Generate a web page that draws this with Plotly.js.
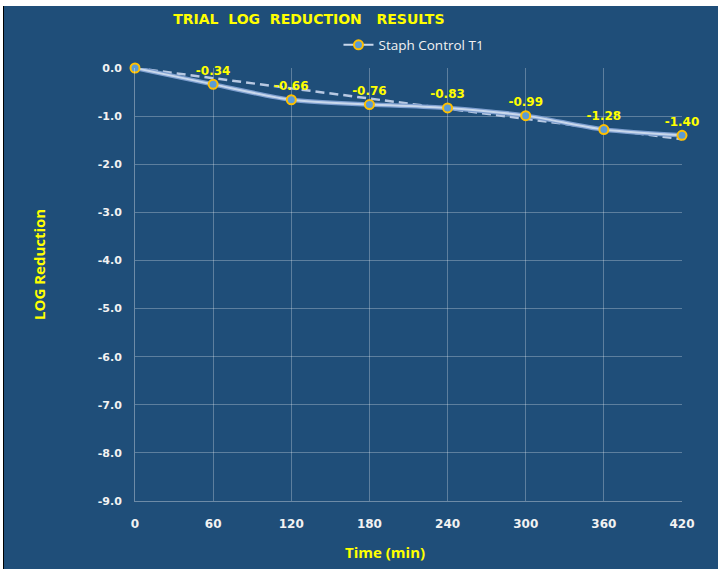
<!DOCTYPE html>
<html><head><meta charset="utf-8">
<script src="https://cdn.plot.ly/plotly-3.0.1.min.js"></script>
<style>
html,body{margin:0;padding:0;background:#fff;width:718px;height:569px;overflow:hidden;}
#wrap{position:absolute;left:3px;top:6px;width:714px;height:563px;border-left:1px solid #000;background:#1F4E79;}
#chart{width:714px;height:563px;}
</style></head>
<body><div id="wrap"><div id="chart"></div></div>
<script>
const timeMin = [0, 60, 120, 180, 240, 300, 360, 420];
const logReduction = [0, -0.34, -0.66, -0.76, -0.83, -0.99, -1.28, -1.40];
const pointLabels = ["", "-0.34", "-0.66", "-0.76", "-0.83", "-0.99", "-1.28", "-1.40"];
const trendX = [0, 420];
const trendY = [0, -1.48];
const xTicks = [0, 60, 120, 180, 240, 300, 360, 420];
const yTickVals = [0, -1, -2, -3, -4, -5, -6, -7, -8, -9];
const yTickText = ["0.0", "-1.0", "-2.0", "-3.0", "-4.0", "-5.0", "-6.0", "-7.0", "-8.0", "-9.0"];

const traces = [
  {x: trendX, y: trendY, mode: 'lines', showlegend: false, hoverinfo: 'skip',
   line: {color: '#B8C9E2', width: 2.5, dash: '9px,5px'}},
  {x: timeMin, y: logReduction, mode: 'lines', showlegend: false, hoverinfo: 'skip',
   line: {color: '#7E9FCF', width: 4.5, shape: 'spline', smoothing: 0.8}},
  {x: timeMin, y: logReduction, mode: 'lines+markers+text', name: 'Staph Control T1',
   line: {color: '#C9D8EC', width: 2, shape: 'spline', smoothing: 0.8},
   marker: {size: 9, color: '#5B9BD5', line: {color: '#FFC000', width: 2}},
   text: pointLabels, textposition: 'top center',
   textfont: {family: 'DejaVu Sans', size: 12, color: '#FFFF00', weight: 'bold'},
   cliponaxis: false}
];

const layout = {
  width: 714, height: 563,
  paper_bgcolor: '#1F4E79', plot_bgcolor: '#1F4E79',
  margin: {l: 131, r: 36, t: 62, b: 68, autoexpand: false},
  title: {text: 'TRIAL  LOG  REDUCTION   RESULTS', x: 0.427, xanchor: 'center', y: 0.976, yanchor: 'middle',
          font: {family: 'DejaVu Sans', size: 14, color: '#FFFF00', weight: 'bold'}},
  showlegend: true,
  legend: {orientation: 'h', x: 0.372, xanchor: 'left', y: 1.053, yanchor: 'middle',
           bgcolor: 'rgba(0,0,0,0)', font: {family: 'Open Sans', size: 13.5, color: '#F2F2F2'},
           itemwidth: 30},
  xaxis: {range: [0, 420], tickvals: xTicks, ticktext: xTicks.map(String),
          showgrid: true, gridcolor: 'rgba(255,255,255,0.28)', gridwidth: 1,
          showline: true, linecolor: 'rgba(255,255,255,0.35)', zeroline: false,
          ticks: '', ticklabelstandoff: 12,
          tickfont: {family: 'DejaVu Sans', size: 12, color: '#F2F2F2', weight: 'bold'}},
  yaxis: {range: [-9, 0], tickvals: yTickVals, ticktext: yTickText,
          showgrid: true, gridcolor: 'rgba(255,255,255,0.28)', gridwidth: 1,
          showline: true, linecolor: 'rgba(255,255,255,0.35)', zeroline: false,
          ticks: '', ticklabelstandoff: 10,
          tickfont: {family: 'DejaVu Sans', size: 11, color: '#F2F2F2', weight: 'bold'}},
  annotations: [
    {text: 'Time (min)', xref: 'paper', yref: 'paper', x: (381 - 131) / 547, y: -(546 - 495) / 433,
     xanchor: 'center', yanchor: 'middle', showarrow: false,
     font: {family: 'Open Sans', size: 15, color: '#FFFF00', weight: 'bold'}},
    {text: 'LOG Reduction', xref: 'paper', yref: 'paper', x: -(131 - 35) / 547, y: 1 - (259 - 62) / 433,
     xanchor: 'center', yanchor: 'middle', textangle: -90, showarrow: false,
     font: {family: 'Open Sans', size: 15, color: '#FFFF00', weight: 'bold'}}
  ]
};

Plotly.newPlot('chart', traces, layout, {displayModeBar: false, staticPlot: true});
</script>
</body></html>
